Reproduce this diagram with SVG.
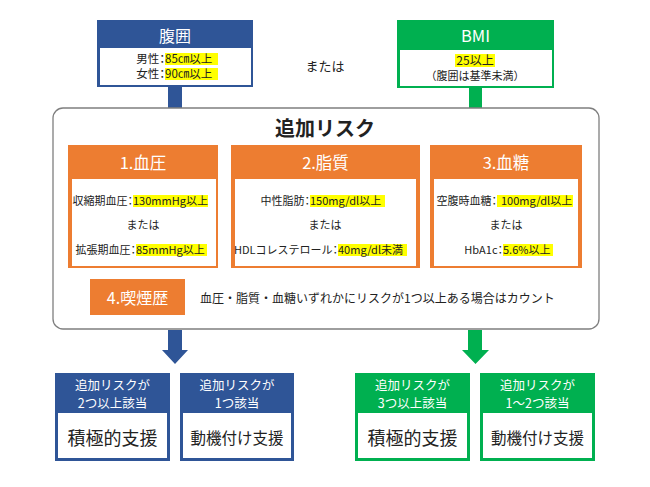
<svg xmlns="http://www.w3.org/2000/svg" width="650" height="487" viewBox="0 0 650 487">
<style>
text{font-family:"Noto Sans CJK JP","Noto Sans",sans-serif;fill:#222}
.w{fill:#fff}
.c{text-anchor:middle}
.e{text-anchor:end}
.s{font-size:11px}
.p{font-feature-settings:"palt"}
.hd{font-size:12.5px;fill:#fff;text-anchor:middle}
.hl{fill:#ffff00}
.blue{fill:#2f5597}
.green{fill:#00b050}
.orange{fill:#ed7d31}
.white{fill:#fff}
</style>
<rect width="650" height="487" fill="#fff"/>
<g id="connectors">
<rect class="blue" x="168" y="86" width="14" height="23"/>
<rect class="green" x="469" y="87" width="13" height="22"/>
<path class="blue" d="M168 330H182V350H188L175 364L162 350H168Z"/>
<path class="green" d="M468 330H482V350H489L475.5 364L462 350H468Z"/>
</g>
<g id="waist">
<rect class="blue" x="97" y="20" width="156" height="67"/>
<rect class="white" x="100" y="48" width="151" height="37"/>
<text class="w c" x="175" y="42" font-size="16">腹囲</text>
<rect class="hl" x="165" y="53" width="53" height="12"/>
<rect class="hl" x="165" y="68" width="53" height="12"/>
<text class="e" x="165" y="63" font-size="11.5">男性<tspan class="p">：</tspan></text>
<text x="165" y="63" font-size="11.5">85㎝以上</text>
<text class="e" x="165" y="78" font-size="11.5">女性<tspan class="p">：</tspan></text>
<text x="165" y="78" font-size="11.5">90㎝以上</text>
</g>
<text id="or" class="c" x="325" y="71" font-size="13">または</text>
<g id="bmi">
<rect class="green" x="397" y="20" width="157" height="68"/>
<rect class="white" x="400" y="50" width="152" height="36"/>
<text class="w c" x="475.5" y="42" font-size="16.5">BMI</text>
<rect class="hl" x="455" y="54" width="40" height="13"/>
<text class="c" x="475" y="65" font-size="12">25以上</text>
<text class="c" x="475" y="80" font-size="11">（腹囲は基準未満）</text>
</g>
<g id="risk">
<rect x="53" y="108" width="546" height="221" rx="10" fill="#fff" stroke="#7f7f7f" stroke-width="1.3"/>
<text class="c" x="325" y="136" font-size="20" font-weight="bold">追加リスク</text>
</g>
<g id="bp">
<rect class="orange" x="68" y="145" width="150" height="123"/>
<rect class="white" x="72" y="179" width="144" height="87"/>
<text class="w c" x="143" y="169" font-size="16.5">1.血圧</text>
<rect class="hl" x="133" y="195" width="75" height="12"/>
<text class="e s" x="133" y="205">収縮期血圧<tspan class="p">：</tspan></text>
<text class="s" x="133" y="205">130mmHg以上</text>
<text class="c s" x="143" y="229">または</text>
<rect class="hl" x="136" y="244" width="71" height="12"/>
<text class="e s" x="136" y="254">拡張期血圧<tspan class="p">：</tspan></text>
<text class="s" x="136" y="254">85mmHg以上</text>
</g>
<g id="lipid">
<rect class="orange" x="231" y="145" width="189" height="123"/>
<rect class="white" x="235" y="179" width="181" height="87"/>
<text class="w c" x="325.5" y="169" font-size="16.5">2.脂質</text>
<rect class="hl" x="310" y="195" width="75" height="12"/>
<text class="e s" x="310" y="205">中性脂肪<tspan class="p">：</tspan></text>
<text class="s" x="310" y="205">150mg/dl以上</text>
<text class="c s" x="325" y="229">または</text>
<rect class="hl" x="338" y="244" width="69" height="12"/>
<text class="e s" x="338" y="254">HDLコレステロール<tspan class="p">：</tspan></text>
<text class="s" x="338" y="254">40mg/dl未満</text>
</g>
<g id="glucose">
<rect class="orange" x="430" y="145" width="152" height="123"/>
<rect class="white" x="434" y="179" width="144" height="87"/>
<text class="w c" x="506" y="169" font-size="16.5">3.血糖</text>
<rect class="hl" x="497" y="195" width="76" height="12"/>
<text class="e s" x="497" y="205">空腹時血糖<tspan class="p">：</tspan></text>
<text class="s" x="501" y="205">100mg/dl以上</text>
<text class="c s" x="506" y="229">または</text>
<rect class="hl" x="503" y="244" width="50" height="12"/>
<text class="e s" x="503" y="254">HbA1c<tspan class="p">：</tspan></text>
<text class="s" x="503" y="254">5.6%以上</text>
</g>
<g id="smoking">
<rect class="orange" x="90" y="279" width="95" height="36"/>
<text class="w c" x="137.5" y="304" font-size="16">4.喫煙歴</text>
<text x="200" y="303" font-size="12">血圧・脂質・血糖いずれかにリスクが1つ以上ある場合はカウント</text>
</g>
<g id="blue-active">
<rect class="blue" x="55" y="373" width="115" height="88"/>
<rect class="white" x="58" y="413" width="109" height="45"/>
<text class="hd" x="112.5" y="390">追加リスクが</text>
<text class="hd" x="112.5" y="408">2つ以上該当</text>
<text class="c" x="112.5" y="445" font-size="18">積極的支援</text>
</g>
<g id="blue-motivation">
<rect class="blue" x="180" y="373" width="114" height="88"/>
<rect class="white" x="183" y="413" width="108" height="45"/>
<text class="hd" x="237" y="390">追加リスクが</text>
<text class="hd" x="237" y="408">1つ該当</text>
<text class="c" x="237" y="444" font-size="15.5">動機付け支援</text>
</g>
<g id="green-active">
<rect class="green" x="355" y="373" width="115" height="88"/>
<rect class="white" x="358" y="413" width="109" height="45"/>
<text class="hd" x="412.5" y="390">追加リスクが</text>
<text class="hd" x="412.5" y="408">3つ以上該当</text>
<text class="c" x="412.5" y="445" font-size="18">積極的支援</text>
</g>
<g id="green-motivation">
<rect class="green" x="480" y="373" width="115" height="88"/>
<rect class="white" x="483" y="413" width="109" height="45"/>
<text class="hd" x="537.5" y="390">追加リスクが</text>
<text class="hd" x="537.5" y="408">1～2つ該当</text>
<text class="c" x="537.5" y="444" font-size="15.5">動機付け支援</text>
</g>
</svg>
